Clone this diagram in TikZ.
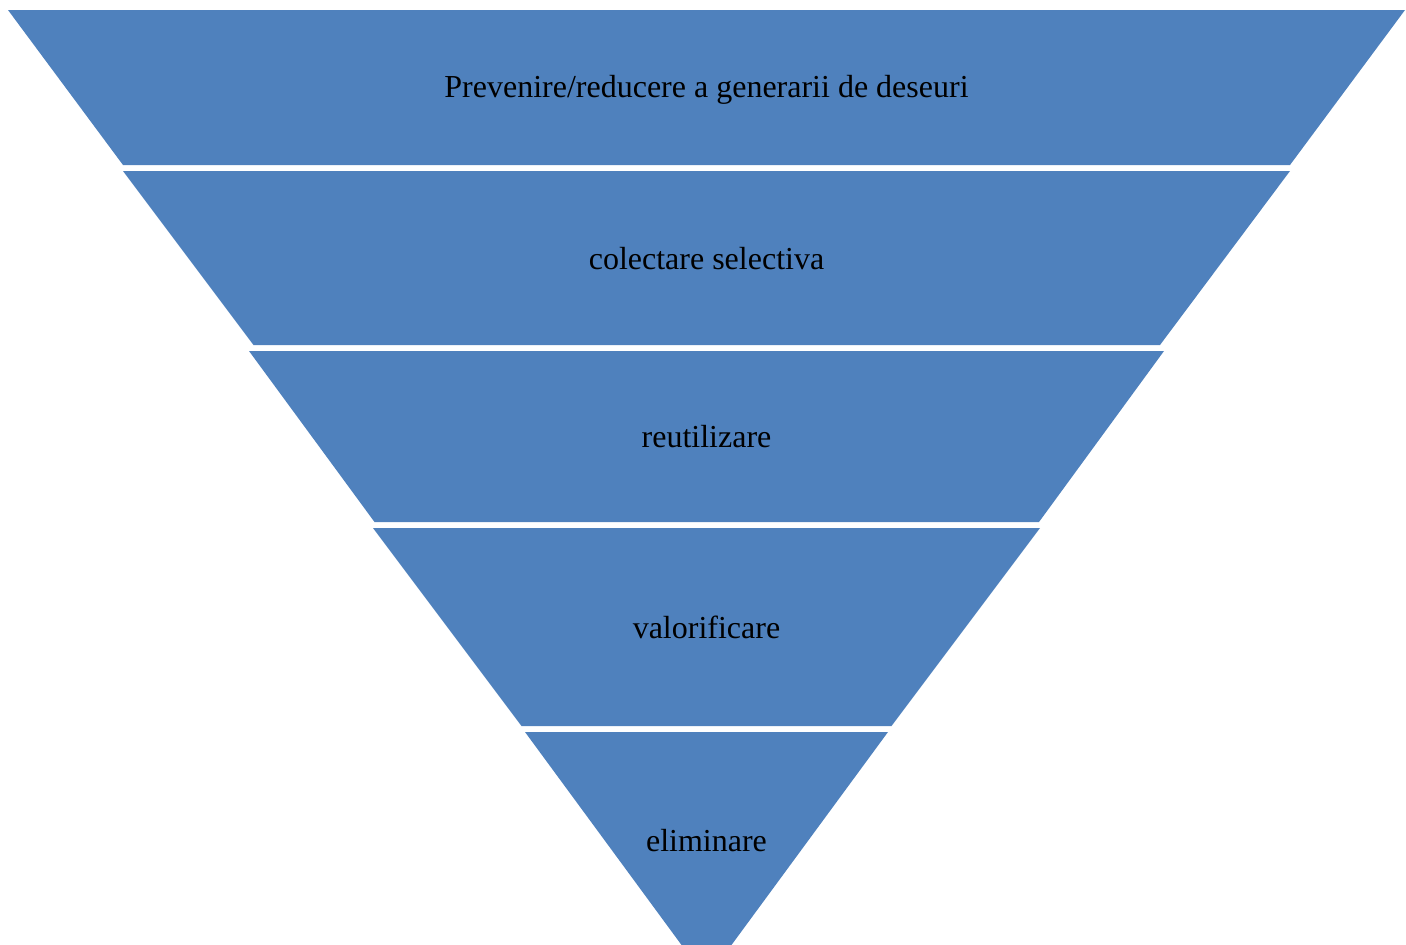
\documentclass[tikz,border=0pt]{standalone}
\usepackage{fontspec}
\setmainfont{Liberation Serif}
\definecolor{bandblue}{HTML}{4F81BD}
\begin{document}
\begin{tikzpicture}[x=1pt,y=-1pt,
  band/.style={fill=bandblue,draw=none},
  lbl/.style={font=\fontsize{32}{38}\selectfont,text=black,inner sep=0pt,anchor=center}]
\useasboundingbox (0,0) rectangle (1406,945);
\clip (0,0) rectangle (1406,945);
% bands (center x = 706.5)
\fill[band] (8,10) -- (1405,10) -- (1290,165) -- (123,165) -- cycle;
\fill[band] (123,171) -- (1290,171) -- (1160,345) -- (253.5,345) -- cycle;
\fill[band] (249,351) -- (1164,351) -- (1039,522) -- (374.5,522) -- cycle;
\fill[band] (373,528) -- (1040,528) -- (891.5,726) -- (521.5,726) -- cycle;
\fill[band] (525,732) -- (888,732) -- (706.5,979) -- cycle;
% labels
\node[lbl] (l1) at (706.5,90) {Prevenire/reducere a generarii de deseuri};
\node[lbl] (l2) at (706.5,258.5) {colectare selectiva};
\node[lbl] (l3) at (706.5,437) {reutilizare};
\node[lbl] (l4) at (706.5,627.5) {valorificare};
\node[lbl] (l5) at (706.5,840.5) {eliminare};
\end{tikzpicture}
\end{document}
